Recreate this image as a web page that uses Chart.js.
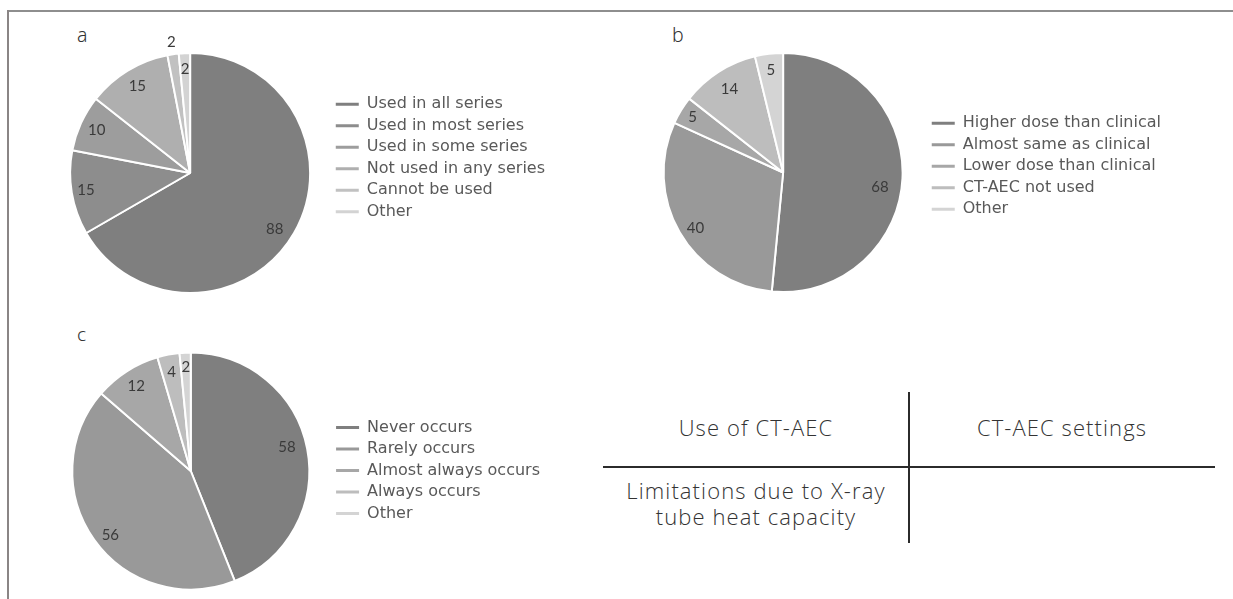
<!DOCTYPE html>
<html>
<head>
<meta charset="utf-8">
<script src="https://cdn.jsdelivr.net/npm/chart.js@4.4.1/dist/chart.umd.min.js"></script>
<style>
  html, body { margin: 0; padding: 0; background: #fff; }
  body { width: 1233px; height: 599px; position: relative; overflow: hidden; }
  .frame-top { position: absolute; left: 7px; top: 10px; width: 1226px; height: 2px; background: #8e8e8e; }
  .frame-left { position: absolute; left: 7px; top: 10px; width: 2px; height: 589px; background: #8a8585; }
  .panel { position: absolute; }
  .tag { position: absolute; font-family: "Noto Sans", sans-serif; font-weight: 300; color: #333; line-height: 1; }
  .rule { position: absolute; background: #2b2b2b; }
  .cell { position: absolute; width: 306px; text-align: center; font-family: "Open Sans", sans-serif;
          font-weight: 300; font-size: 22px; line-height: 26px; letter-spacing: 1.1px; color: #333; }
</style>
</head>
<body>
<div class="frame-top"></div>
<div class="frame-left"></div>

<div class="tag" style="left:77px; top:25px; font-size:19.5px;">a</div>
<div class="tag" style="left:672px; top:25px; font-size:19.5px;">b</div>
<div class="tag" style="left:77px; top:325px; font-size:19px;">c</div>

<div class="panel" id="wrapA"><canvas id="pieA"></canvas></div>
<div class="panel" id="wrapB"><canvas id="pieB"></canvas></div>
<div class="panel" id="wrapC"><canvas id="pieC"></canvas></div>

<!-- 2x2 key table at the lower right -->
<div class="rule" style="left:908px; top:392px; width:2px; height:151px;"></div>
<div class="rule" style="left:603px; top:466px; width:612px; height:2px;"></div>
<div class="cell" style="left:603px; top:414px;">Use of CT-AEC</div>
<div class="cell" style="left:909px; top:414px;">CT-AEC settings</div>
<div class="cell" style="left:603px; top:477px;">Limitations due to X-ray<br>tube heat capacity</div>

<script>
const A_LABELS = ["Used in all series", "Used in most series", "Used in some series", "Not used in any series", "Cannot be used", "Other"];
const A_VALUES = [88, 15, 10, 15, 2, 2];

const B_LABELS = ["Higher dose than clinical", "Almost same as clinical", "Lower dose than clinical", "CT-AEC not used", "Other"];
const B_VALUES = [68, 40, 5, 14, 5];

const C_LABELS = ["Never occurs", "Rarely occurs", "Almost always occurs", "Always occurs", "Other"];
const C_VALUES = [58, 56, 12, 4, 2];

const GREYS_6 = ["#7f7f7f", "#8d8d8d", "#9d9d9d", "#afafaf", "#c1c1c1", "#d3d3d3"];
const GREYS_5 = ["#7f7f7f", "#999999", "#a7a7a7", "#bdbdbd", "#d4d4d4"];

const LEGEND_FONT = { family: "DejaVu Sans", size: 16 };
const LEGEND_PAD = 5.5;
const MARK_W = 23;
const TITLE_FS = 10;
const EXTRA = 18; // room above/below the pie for outside value labels

// where each pie sits and where its legend text starts (page pixels)
const panels = [
  { wrap: "wrapA", canvas: "pieA", labels: A_LABELS, values: A_VALUES, colors: GREYS_6,
    cx: 190, cy: 173, r: 120, textX: 367, firstRowY: 104.2,
    labelRadii: [0.845, 0.88, 0.855, 0.845, 1.10, 0.865],
    labelNudge: [3.5, 0, 0, 0, 0, 0] },
  { wrap: "wrapB", canvas: "pieB", labels: B_LABELS, values: B_VALUES, colors: GREYS_5,
    cx: 783, cy: 172.5, r: 119.5, textX: 962.7, firstRowY: 123.2,
    labelRadii: [0.82, 0.87, 0.887, 0.83, 0.86],
    labelNudge: [6, -2.5, 0, 0, 0] },
  { wrap: "wrapC", canvas: "pieC", labels: C_LABELS, values: C_VALUES, colors: GREYS_5,
    cx: 190.5, cy: 471, r: 118.5, textX: 367, firstRowY: 427.5,
    labelRadii: [0.837, 0.867, 0.852, 0.852, 0.875],
    labelNudge: [-3, -3, 0, 0, 0] },
];

const sliceValueLabels = {
  id: "sliceValueLabels",
  afterDatasetsDraw(chart, args, opts) {
    const { ctx } = chart;
    const meta = chart.getDatasetMeta(0);
    const values = chart.data.datasets[0].data;
    ctx.save();
    ctx.font = "15px Lato";
    ctx.fillStyle = "#3a3a3a";
    ctx.textAlign = "center";
    ctx.textBaseline = "middle";
    meta.data.forEach((arc, i) => {
      const { x, y, startAngle, endAngle, outerRadius } = arc.getProps(["x", "y", "startAngle", "endAngle", "outerRadius"], true);
      const mid = (startAngle + endAngle) / 2 + (opts.nudge[i] * Math.PI) / 180;
      const d = outerRadius * opts.radii[i];
      ctx.fillText(String(values[i]), x + Math.cos(mid) * d, y + Math.sin(mid) * d);
    });
    ctx.restore();
  },
};

function makeChart(cv, p, titlePad) {
  return new Chart(cv, {
    type: "pie",
    data: {
      labels: p.labels,
      datasets: [{
        data: p.values,
        backgroundColor: p.colors,
        borderColor: "#ffffff",
        borderWidth: 2,
        hoverOffset: 0,
        radius: p.r,
      }],
    },
    options: {
      responsive: false,
      maintainAspectRatio: false,
      animation: false,
      layout: { padding: 0 },
      plugins: {
        tooltip: { enabled: false },
        sliceValueLabels: { radii: p.labelRadii, nudge: p.labelNudge },
        legend: {
          position: "right",
          align: "start",
          title: { display: true, text: "", font: { size: TITLE_FS, lineHeight: 1 }, padding: { top: titlePad, bottom: 0 } },
          labels: {
            font: LEGEND_FONT,
            color: "#595959",
            padding: LEGEND_PAD,
            usePointStyle: true,
            pointStyleWidth: MARK_W,
            generateLabels(chart) {
              const items = Chart.overrides.pie.plugins.legend.labels.generateLabels(chart);
              items.forEach((it) => {
                it.pointStyle = "line";
                it.strokeStyle = it.fillStyle;
                it.lineWidth = 3;
              });
              return items;
            },
          },
        },
      },
    },
    plugins: [sliceValueLabels],
  });
}

panels.forEach((p) => {
  const top = Math.round(p.cy - p.r - 1 - EXTRA);
  const height = Math.round(2 * (p.cy - top));
  const titlePad = p.firstRowY - LEGEND_FONT.size / 2 - top - LEGEND_PAD - TITLE_FS;
  const wrap = document.getElementById(p.wrap);
  const cv = document.getElementById(p.canvas);

  // first pass: measure the legend box the library builds
  cv.width = 1000;
  cv.height = height;
  const probe = makeChart(cv, p, titlePad);
  const legendW = probe.legend.width;
  const markOffset = probe.legend.legendHitBoxes[0].left - probe.legend.left;
  probe.destroy();

  const legendLeft = p.textX - MARK_W - LEGEND_FONT.size / 2 - markOffset;
  const left = Math.round(2 * p.cx - legendLeft);
  const width = Math.round(legendLeft + legendW - left);

  wrap.style.left = left + "px";
  wrap.style.top = top + "px";
  cv.width = width;
  cv.height = height;
  makeChart(cv, p, titlePad);
});
</script>
</body>
</html>
